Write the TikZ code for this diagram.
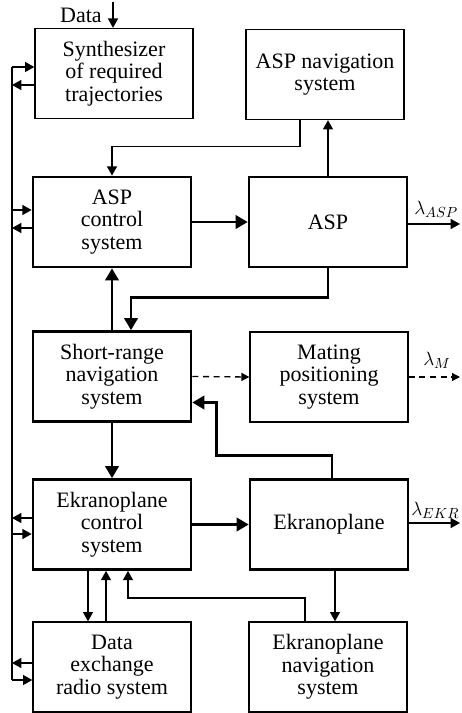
\documentclass[tikz,border=0pt]{standalone}
\usepackage{fontspec}
\setmainfont{Liberation Serif}
\usetikzlibrary{arrows.meta,calc}

\tikzset{
  blk/.style={draw, line width=1pt, minimum width=118.5pt, minimum height=67.5pt,
    inner sep=0pt, align=center, font=\fontsize{16.5}{17}\selectfont},
  thickbox/.style={line width=2pt},
  thin line/.style={line width=1pt},
  thick line/.style={line width=2pt},
  arr/.style={-{Triangle[length=7pt,width=7.5pt]}},
  thickarr/.style={-{Triangle[length=9pt,width=10pt]}},
  dasharr/.style={line width=1pt, dash pattern=on 4.5pt off 3.5pt, -{Triangle[length=6pt,width=6pt]}},
  lam/.style={anchor=south west, inner sep=0.75pt, font=\fontsize{15}{17}\selectfont}
}

\begin{document}
\begin{tikzpicture}[x=0.75pt,y=0.75pt,yscale=-1,xscale=1]
		\useasboundingbox (0,0) rectangle (461,713);
		
		%Shape: Rectangle [synthesizer]
		\node[blk] (synth) at (114,73.5) {Synthesizer\\of required\\trajectories};
		%Shape: Rectangle [ASP navigation]
		\node[blk] (aspnav) at (325,74.5) {ASP navigation\\system};
		%Shape: Rectangle [ASP control]
		\node[blk,thickbox] (aspctrl) at (112,222) {ASP\\control\\system};
		%Shape: Rectangle [ASP]
		\node[blk,thickbox] (asp) at (328,222) {ASP};
		%Shape: Rectangle [short-range navigation]
		\node[blk,thickbox] (srnav) at (112,376.5) {Short-range\\navigation\\system};
		%Shape: Rectangle [mating positioning]
		\node[blk] (mating) at (329,377) {Mating\\positioning\\system};
		%Shape: Rectangle [ekranoplane control]
		\node[blk,thickbox] (ekctrl) at (112,524.5) {Ekranoplane\\control\\system};
		%Shape: Rectangle [ekranoplane]
		\node[blk,thickbox] (ekr) at (329,524.5) {Ekranoplane};
		%Shape: Rectangle [data exchange]
		\node[blk] (dataex) at (112,667) {Data\\exchange\\radio system};
		%Shape: Rectangle [ekranoplane navigation]
		\node[blk] (eknav) at (328,667) {Ekranoplane\\navigation\\system};
		
		% Text Node
		\node[anchor=east, inner sep=0.75pt, font=\fontsize{16.5}{17}\selectfont] (datalbl) at (103,15) {Data};
		%Straight Lines [data input]
		\coordinate (datain) at (113,2);
		\draw[thin line,arr] (datain) -- (datain |- synth.north);
		
		%Straight Lines [common bus]
		\coordinate (busS1) at (12,67);
		\coordinate (busS2) at (12,85);
		\coordinate (busA1) at (12,210);
		\coordinate (busA2) at (12,228);
		\coordinate (busE1) at (12,518);
		\coordinate (busE2) at (12,534);
		\coordinate (busD1) at (12,663);
		\coordinate (busD2) at (12,680);
		\draw[thin line] (busS1) -- (busD2);
		\draw[thin line,arr] (busS1) -- (busS1 -| synth.west);
		\draw[thin line,arr] (busS2 -| synth.west) -- (busS2);
		\draw[thin line,arr] (busA1) -- (busA1 -| aspctrl.west);
		\draw[thin line,arr] (busA2 -| aspctrl.west) -- (busA2);
		\draw[thin line,arr] (busE1 -| ekctrl.west) -- (busE1);
		\draw[thin line,arr] (busE2) -- (busE2 -| ekctrl.west);
		\draw[thin line,arr] (busD1 -| dataex.west) -- (busD1);
		\draw[thin line,arr] (busD2) -- (busD2 -| dataex.west);
		
		%Straight Lines [ASP navigation to ASP control]
		\draw[thin line,arr] ($(aspnav.south)+(-25,0)$) |- ($(aspctrl.north)+(0,-29)$) -- (aspctrl.north);
		%Straight Lines [ASP to ASP navigation]
		\draw[thin line,arr] (asp.north) -- (asp.north |- aspnav.south);
		%Straight Lines [ASP control to ASP]
		\draw[thick line,thickarr] (aspctrl.east) -- (asp.west);
		%Straight Lines [ASP output]
		\coordinate (outASP) at (460,224);
		\draw[thin line,arr] (asp.east |- outASP) -- (outASP);
		\node[lam] (lamASP) at (413,219) {$\lambda_{ASP}$};
		
		%Straight Lines [ASP to short-range navigation]
		\draw[thick line,thickarr] (asp.south) |- ($(srnav.north)+(19,-33)$) -- ($(srnav.north)+(19,0)$);
		%Straight Lines [short-range navigation to ASP control]
		\draw[thick line,thickarr] (srnav.north) -- (aspctrl.south);
		%Straight Lines [short-range navigation to ekranoplane control]
		\draw[thick line,thickarr] (srnav.south) -- (ekctrl.north);
		%Straight Lines [short-range navigation to mating]
		\draw[dasharr] (srnav.east) -- (mating.west);
		%Straight Lines [mating output]
		\coordinate (outM) at (460,377);
		\draw[dasharr] (mating.east) -- (outM);
		\node[lam] (lamM) at (422,370) {$\lambda_{M}$};
		
		%Straight Lines [ekranoplane to short-range navigation]
		\draw[thick line,thickarr] ($(ekr.north)+(3,0)$) |- ($(srnav.east)+(24,79)$) |- ($(srnav.east)+(0,26)$);
		%Straight Lines [ekranoplane control to ekranoplane]
		\draw[thick line,thickarr] (ekctrl.east) -- (ekr.west);
		%Straight Lines [ekranoplane output]
		\coordinate (outEKR) at (460,523);
		\draw[thin line,arr] (ekr.east |- outEKR) -- (outEKR);
		\node[lam] (lamEKR) at (410,520) {$\lambda_{EKR}$};
		
		%Straight Lines [ekranoplane to ekranoplane navigation]
		\draw[thin line,arr] ($(ekr.south)+(6,0)$) coordinate (ekdown) -- (ekdown |- eknav.north);
		%Straight Lines [ekranoplane navigation to ekranoplane control]
		\draw[thin line,arr] ($(eknav.north)+(-23,0)$) |- ($(ekctrl.south)+(16,27)$) -- ($(ekctrl.south)+(16,0)$);
		%Straight Lines [ekranoplane control to data exchange]
		\draw[thin line,arr] ($(ekctrl.south)+(-24,0)$) -- ($(dataex.north)+(-24,0)$);
		%Straight Lines [data exchange to ekranoplane control]
		\draw[thin line,arr] ($(dataex.north)+(-6,0)$) -- ($(ekctrl.south)+(-6,0)$);
		
	\end{tikzpicture}
\end{document}
